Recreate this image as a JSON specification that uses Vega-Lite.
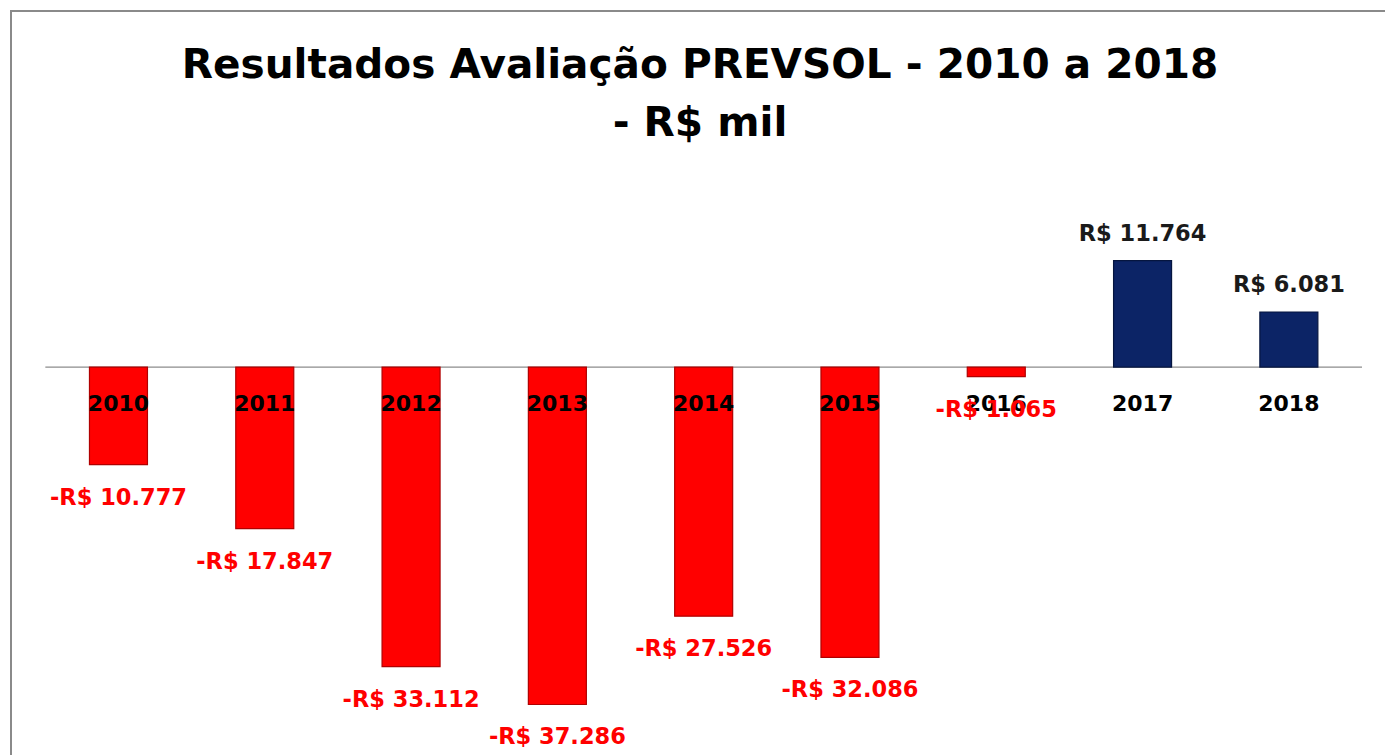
{
  "$schema": "https://vega.github.io/schema/vega-lite/v6.json",
  "width": 1378,
  "height": 748,
  "autosize": "none",
  "padding": {"left": 11, "top": 11, "right": -4, "bottom": -4},
  "background": "white",
  "config": {
    "view": {"stroke": "#8a8a8a", "strokeWidth": 2},
    "font": "DejaVu Sans",
    "locale": {
      "number": {"decimal": ",", "thousands": ".", "grouping": [3], "currency": ["R$ ", ""], "minus": "-"}
    }
  },
  "title": {
    "text": ["Resultados Avaliação PREVSOL - 2010 a 2018", "- R$ mil"],
    "font": "DejaVu Sans",
    "fontSize": 40.6,
    "fontWeight": "bold",
    "color": "#000000",
    "anchor": "middle",
    "frame": "group",
    "baseline": "top",
    "offset": -134,
    "lineHeight": 58
  },
  "data": {
    "values": [
      {"year": "2010", "value": -10777},
      {"year": "2011", "value": -17847},
      {"year": "2012", "value": -33112},
      {"year": "2013", "value": -37286},
      {"year": "2014", "value": -27526},
      {"year": "2015", "value": -32086},
      {"year": "2016", "value": -1065},
      {"year": "2017", "value": 11764},
      {"year": "2018", "value": 6081}
    ]
  },
  "encoding": {
    "x": {
      "field": "year",
      "type": "nominal",
      "axis": null,
      "scale": {
        "domain": ["2010", "2011", "2012", "2013", "2014", "2015", "2016", "2017", "2018"],
        "paddingInner": 0.6036,
        "paddingOuter": 0.5113,
        "align": 0.5245
      }
    }
  },
  "layer": [
    {
      "data": {"values": [{"start": "2010", "end": "2018", "zero": 0}]},
      "mark": {"type": "rule", "color": "#8c8c8c", "strokeWidth": 1.2},
      "encoding": {
        "x": {"field": "start", "type": "nominal", "bandPosition": -0.761},
        "x2": {"field": "end", "bandPosition": 1.761},
        "y": {"field": "zero", "type": "quantitative", "axis": null, "scale": {"domain": [-43310, 39340], "nice": false, "zero": false}}
      }
    },
    {
      "transform": [{"filter": "datum.value < 0"}],
      "mark": {"type": "bar", "fill": "#FF0000", "stroke": "#B00000", "strokeWidth": 1.2},
      "encoding": {
        "y": {"field": "value", "type": "quantitative"}
      }
    },
    {
      "transform": [{"filter": "datum.value >= 0"}],
      "mark": {"type": "bar", "fill": "#0C2466", "stroke": "#05153F", "strokeWidth": 1.2},
      "encoding": {
        "y": {"field": "value", "type": "quantitative"}
      }
    },
    {
      "mark": {"type": "text", "font": "DejaVu Sans", "fontSize": 22, "fontWeight": "bold", "color": "#000000", "baseline": "alphabetic", "align": "center", "dy": 44},
      "encoding": {
        "y": {"datum": 0, "type": "quantitative"},
        "text": {"field": "year", "type": "nominal"}
      }
    },
    {
      "transform": [{"filter": "datum.value < 0"}],
      "mark": {"type": "text", "font": "DejaVu Sans", "fontSize": 22.5, "fontWeight": "bold", "color": "#FF0000", "baseline": "alphabetic", "align": "center", "dy": 40},
      "encoding": {
        "y": {"field": "value", "type": "quantitative"},
        "text": {"field": "value", "type": "quantitative", "format": "$,.0f"}
      }
    },
    {
      "transform": [{"filter": "datum.value >= 0"}],
      "mark": {"type": "text", "font": "DejaVu Sans", "fontSize": 22.5, "fontWeight": "bold", "color": "#1A1A1A", "baseline": "alphabetic", "align": "center", "dy": -20},
      "encoding": {
        "y": {"field": "value", "type": "quantitative"},
        "text": {"field": "value", "type": "quantitative", "format": "$,.0f"}
      }
    }
  ]
}
